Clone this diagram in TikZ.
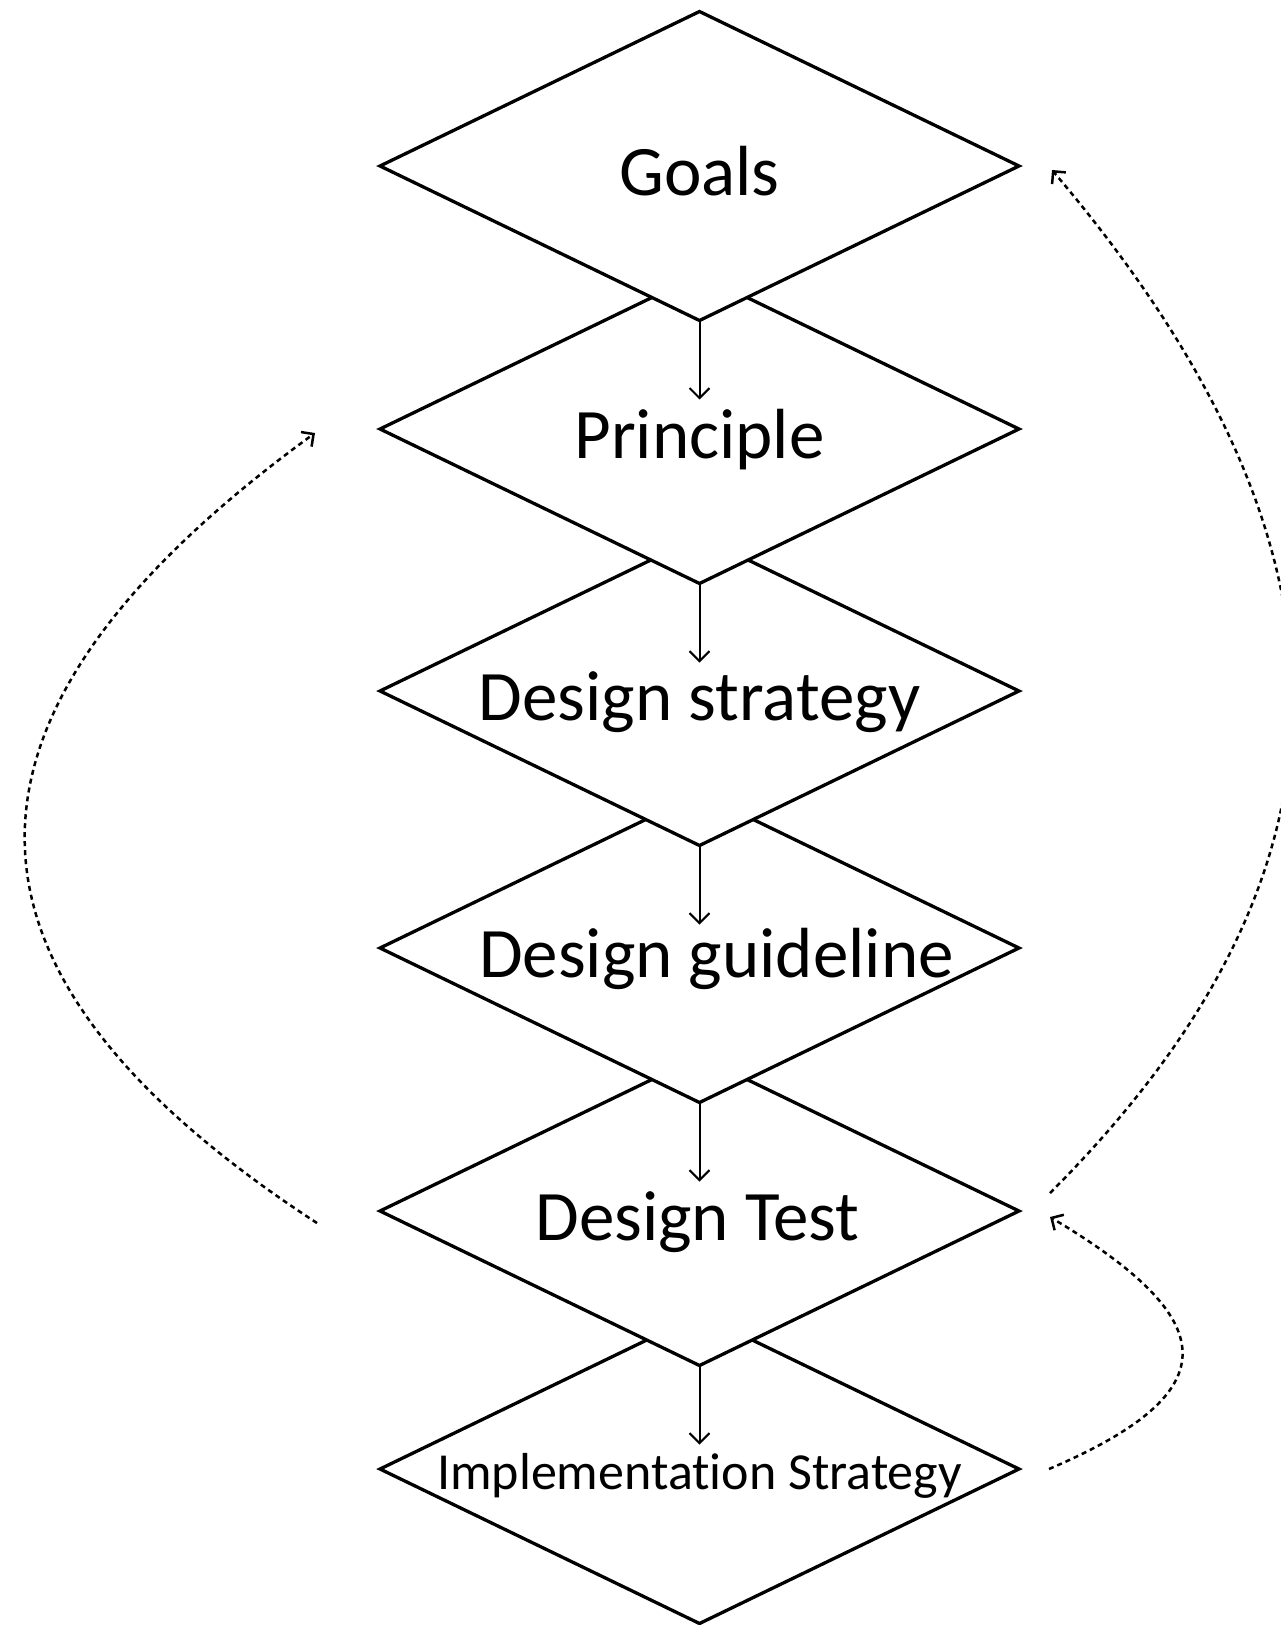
\documentclass[tikz,border=0pt]{standalone}
\usepackage{fontspec}
\setmainfont{Carlito}[Ligatures={NoCommon,NoDiscretionary,NoRare}]
\usetikzlibrary{shapes.geometric,arrows.meta,calc}
\begin{document}
\begin{tikzpicture}[x=1pt,y=-1pt,
  dia/.style={shape=diamond, draw=black, fill=white, line width=3.3pt,
    minimum width=639pt, minimum height=309pt, inner sep=0pt, outer sep=0pt},
  lbl/.style={anchor=base, font=\fontsize{71}{85}\selectfont, inner sep=0pt},
  lblsmall/.style={anchor=base, font=\fontsize{52}{62}\selectfont, inner sep=0pt},
  flow/.style={line width=2pt, -{Straight Barb[length=10pt,width=20pt,line width=2pt]}},
  loopline/.style={line width=2.5pt, dash pattern=on 5pt off 4pt,
    -{Straight Barb[length=9pt,width=18pt,line width=2.5pt]}}]
\clip (0,0) rectangle (1281,1625);
% diamonds, lowest first so upper ones cover the overlaps
\node[dia] (d6) at (699.5,1469) {};
\node[dia] (d5) at (699.5,1211) {};
\node[dia] (d4) at (699.5,948) {};
\node[dia] (d3) at (699.5,691) {};
\node[dia] (d2) at (699.5,429) {};
\node[dia] (d1) at (699.5,166) {};
% labels
\node[lbl] (t1) at ($(d1.center)+(0,29)$) {Goals};
\node[lbl] (t2) at ($(d2.center)+(0,29)$) {Principle};
\node[lbl] (t3) at ($(d3.center)+(0,29)$) {Design strategy};
\node[lbl] (t4) at ($(d4.center)+(17,29)$) {Design guideline};
\node[lbl] (t5) at ($(d5.center)+(-2,29)$) {Design Test};
\node[lblsmall] (t6) at ($(d6.center)+(0,20)$) {Implementation Strategy};
% down arrows
\coordinate (a1) at ($(d1.south)+(0,79)$);
\coordinate (a2) at ($(d2.south)+(0,79)$);
\coordinate (a3) at ($(d3.south)+(0,79)$);
\coordinate (a4) at ($(d4.south)+(0,79)$);
\coordinate (a5) at ($(d5.south)+(0,79)$);
\draw[flow] (d1.south) -- (a1);
\draw[flow] (d2.south) -- (a2);
\draw[flow] (d3.south) -- (a3);
\draw[flow] (d4.south) -- (a4);
\draw[flow] (d5.south) -- (a5);
% feedback loops
\coordinate (ls) at ($(d5.west)+(-63,12)$);
\coordinate (le) at ($(d2.west)+(-65,4)$);
\draw[loopline] (ls) .. controls +(-395,-257) and +(-381,277) .. (le);
\coordinate (rs) at ($(d5.east)+(31,-18)$);
\coordinate (re) at ($(d1.east)+(33,4)$);
\draw[loopline] (rs) .. controls +(336,-336) and +(307,362) .. (re);
\coordinate (ss) at ($(d6.east)+(30,0)$);
\coordinate (se) at ($(d5.east)+(31,6)$);
\draw[loopline] (ss) .. controls +(183,-78) and +(171,102) .. (se);
\end{tikzpicture}
\end{document}
